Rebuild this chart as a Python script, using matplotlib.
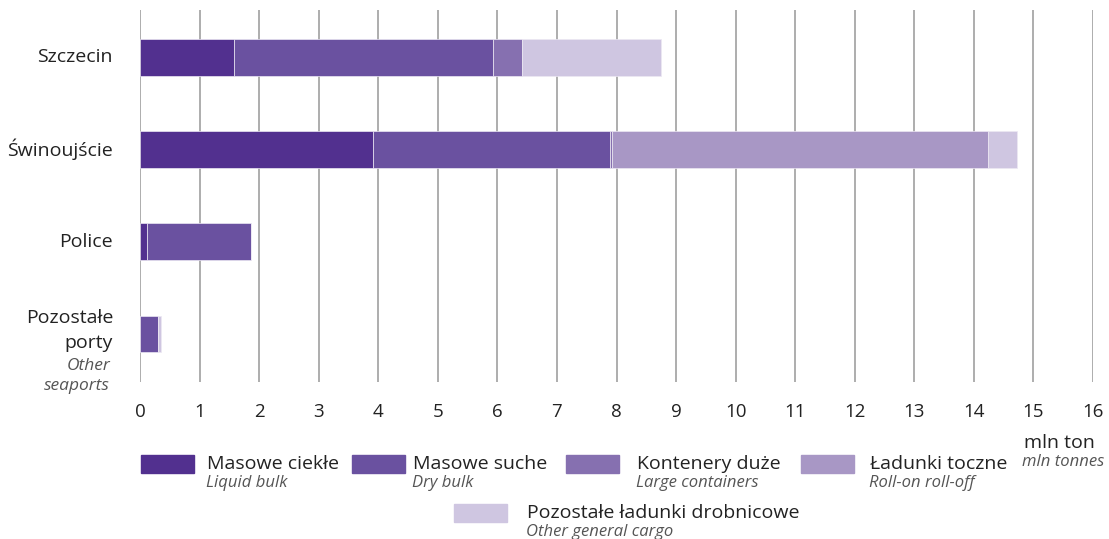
import matplotlib
matplotlib.use("Agg")
import matplotlib.pyplot as plt
from matplotlib.patches import Rectangle
import numpy as np

plt.rcParams['font.family'] = ['Open Sans', 'DejaVu Sans']

ports = ["Szczecin", "Świnoujście", "Police", "Pozostałe porty"]
series_pl = ["Masowe ciekłe", "Masowe suche", "Kontenery duże", "Ładunki toczne",
             "Pozostałe ładunki drobnicowe"]
series_en = ["Liquid bulk", "Dry bulk", "Large containers", "Roll-on roll-off",
             "Other general cargo"]
liquid_bulk = [1.58, 3.92, 0.11, 0.00]
dry_bulk = [4.34, 3.97, 1.75, 0.30]
large_containers = [0.49, 0.04, 0.00, 0.00]
roll_on_off = [0.00, 6.30, 0.00, 0.00]
other_general = [2.34, 0.50, 0.00, 0.06]
xticks = list(range(0, 17))

colors = ["#52308f", "#6a51a0", "#8670b0", "#a897c5", "#cfc6e1"]
values = [liquid_bulk, dry_bulk, large_containers, roll_on_off, other_general]

W, H = 1109, 539
fig = plt.figure(figsize=(W / 100, H / 100), dpi=100)
ax = fig.add_axes([140 / W, 1 - 382 / H, (1093 - 140) / W, 372 / H])

y = np.arange(len(ports))
left = np.zeros(len(ports))
for vals, c in zip(values, colors):
    v = np.array(vals)
    ax.barh(y, v, left=left, height=0.40, color=c, edgecolor="#ece8f3",
            linewidth=0.5, zorder=3)
    left += v

ax.set_xlim(0, 16)
ax.set_ylim(3.52, -0.51)
ax.set_xticks(xticks)
ax.set_xticklabels([str(t) for t in xticks], fontsize=13.5, color="#222222")
ax.tick_params(axis="x", length=0, pad=15)
ax.set_yticks([])
for s in ax.spines.values():
    s.set_visible(False)
ax.grid(axis="x", color="#a0a0a0", linewidth=1.2, zorder=0)
ax.set_axisbelow(True)

ytr = ax.get_yaxis_transform()
xl = -27 / 953
for i in range(3):
    ax.text(xl, i, ports[i], transform=ytr, ha="right", va="center",
            fontsize=14, color="#222222")
# multi-line last label
parts = [("Pozostałe", 11.5, False), ("porty", -6.5, False),
         ("Other", -23, True), ("seaports", -37.5, True)]
for txt, dy, it in parts:
    ax.annotate(txt, xy=(xl, 3), xycoords=ytr,
                xytext=(-2 if it else 0, dy), textcoords="offset points",
                ha="right", va="center",
                fontsize=12.5 if it else 14,
                style="italic" if it else "normal",
                color="#555555" if it else "#222222")

# legend (manual layout)
def fx(px):
    return px / W

def fy(py):
    return 1 - py / H

legend_pos = [(141, 455, 207), (352, 455, 413), (566, 455, 637),
              (801, 455, 870), (454, 504, 527)]
for (px, py, tx), c, pl, en in zip(legend_pos, colors, series_pl, series_en):
    fig.patches.append(Rectangle((fx(px), fy(py + 18)), 53 / W, 18 / H,
                                 transform=fig.transFigure, color=c))
    fig.text(fx(tx), fy(py + 9), pl, ha="left", va="center", fontsize=14,
             color="#222222")
    fig.text(fx(tx - 1), fy(py + 28), en, ha="left", va="center", fontsize=12,
             style="italic", color="#555555")

fig.text(fx(1024), fy(443), "mln ton", ha="left", va="center", fontsize=14,
         color="#222222")
fig.text(fx(1022), fy(462), "mln tonnes", ha="left", va="center", fontsize=12,
         style="italic", color="#555555")

fig.savefig("out.png", dpi=100)
